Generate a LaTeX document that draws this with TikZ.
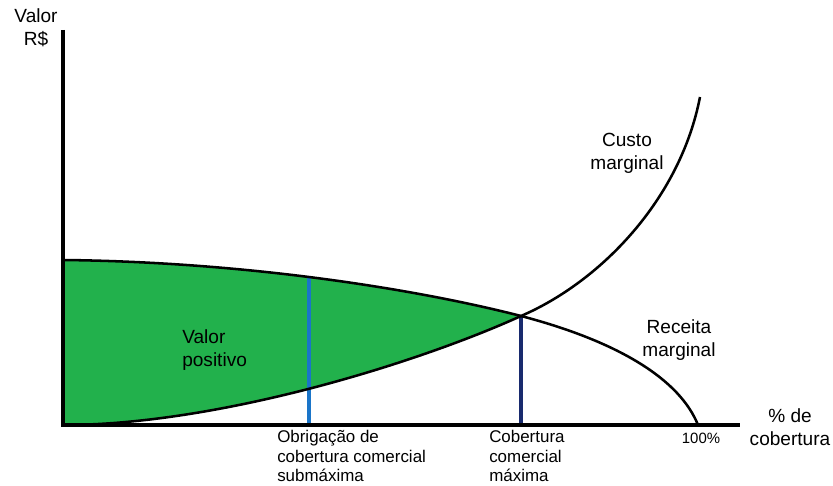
\documentclass[tikz,border=0pt]{standalone}
\usepackage{fontspec}
\setmainfont{Liberation Sans}
\usetikzlibrary{intersections}
\definecolor{areaverde}{RGB}{34,177,76}
\definecolor{azulsub}{RGB}{26,117,201}
\definecolor{azulmax}{RGB}{24,42,110}

\begin{document}
\begin{tikzpicture}[x=0.75pt,y=0.75pt]
	\tikzstyle{curva}=[line width=1.9pt]
	\tikzstyle{eixo}=[line width=3pt]
	\tikzstyle{rotulo}=[inner sep=0pt,align=center,font=\fontsize{14.3}{17.5}\selectfont]
	\tikzstyle{rotulopeq}=[inner sep=0pt,align=left,anchor=north west,font=\fontsize{12.7}{14.6}\selectfont]
	\useasboundingbox (0,0) rectangle (833,486);
	\coordinate (topo) at (63,456);
	\coordinate (O) at (63,61);
	\coordinate (fim) at (740,61);
	\coordinate (r0) at (63,226);
	\coordinate (eq) at (521,170);
	\coordinate (r1) at (698,61);
	\coordinate (c1) at (700,389);
	\fill[areaverde] (r0) .. controls (250,224) and (420,196) .. (eq)
		.. controls (420,124) and (220,61) .. (O) -- cycle;
	\path[name path=receita] (r0) .. controls (250,224) and (420,196) .. (eq);
	\path[name path=vert] (309,61) -- (309,300);
	\path[name intersections={of=receita and vert,by=sub}];
	\draw[azulsub,line width=3.2pt] (sub) -- (sub|-O);
	\draw[azulmax,line width=3.2pt] (eq) -- (eq|-O);
	\draw[curva] (r0) .. controls (250,224) and (420,196) .. (eq)
		.. controls (620,144) and (680,106) .. (r1);
	\draw[curva] (O) .. controls (220,61) and (420,124) .. (eq)
		.. controls (600,204) and (680,286) .. (c1);
	\draw[eixo] (topo) -- (O) -- (fim);
	\node[rotulo] (eixoy) at (36,458) {Valor\\R\$};
	\node[rotulo] (custo) at (627,333) {Custo\\marginal};
	\node[rotulo] (receita) at (679,146) {Receita\\marginal};
	\node[rotulo,align=left,anchor=west] (valor) at (182,136) {Valor\\positivo};
	\node[rotulo] (eixox) at (790,59) {\% de\\cobertura};
	\node[rotulo,font=\fontsize{11.2}{13}\selectfont] (cem) at (701,48) {100\%};
	\node[rotulopeq] (obrig) at (277,56) {Obrigação de\\cobertura comercial\\submáxima};
	\node[rotulopeq] (cobmax) at (489,56) {Cobertura\\comercial\\máxima};
\end{tikzpicture}
\end{document}
